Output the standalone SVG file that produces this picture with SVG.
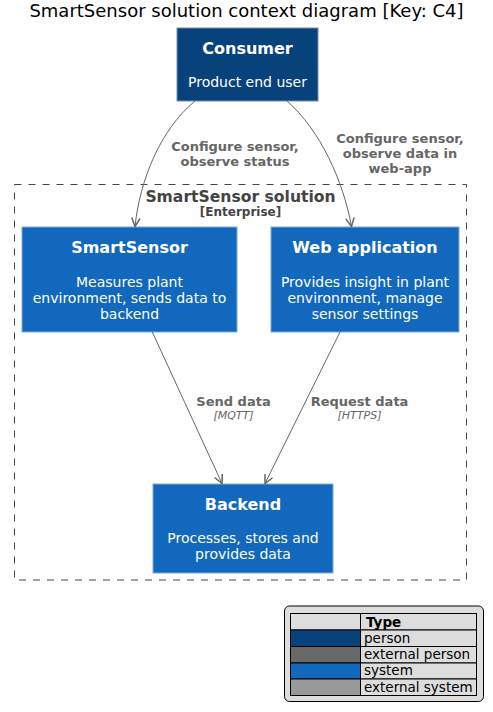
<svg xmlns="http://www.w3.org/2000/svg" width="493" height="712" viewBox="0 0 493 712">
<defs>
<marker id="arr" viewBox="0 0 10 10" refX="9" refY="5" markerWidth="10" markerHeight="10" markerUnits="userSpaceOnUse" orient="auto">
<path d="M0.5,0.8 L9,5 L0.5,9.2" fill="none" stroke="#666666" stroke-width="1.5"/>
</marker>
</defs>
<style>
text{font-family:"DejaVu Sans","Liberation Sans",sans-serif}
.title{font-size:18px;fill:#000}
.nt{font-size:16px;font-weight:bold;fill:#fff}
.nd{font-size:14px;fill:#fff}
.lbl{font-size:13px;font-weight:bold;fill:#666}
.tech{font-size:11px;font-style:italic;fill:#666}
.edge{fill:none;stroke:#666666;stroke-width:1}
.sys{fill:#1168BD;stroke:#7DAADB;stroke-width:1}
.per{fill:#08427B;stroke:#6F8FB3;stroke-width:1}
.lg{font-size:13.5px;fill:#000}
.cell{stroke:#000;stroke-width:1}
</style>
<rect width="493" height="712" fill="#fff"/>
<text class="title" x="246.5" y="17" text-anchor="middle">SmartSensor solution context diagram [Key: C4]</text>

<g id="boundary">
<rect x="14.5" y="184.5" width="452" height="395.5" fill="none" stroke="#444" stroke-width="1" stroke-dasharray="7,7"/>
<text x="240.5" y="202" text-anchor="middle" style="font-size:15.6px;font-weight:bold;fill:#444">SmartSensor solution</text>
<text x="240.5" y="216" text-anchor="middle" style="font-size:12px;font-weight:bold;fill:#444">[Enterprise]</text>
</g>

<g id="consumer">
<rect class="per" x="177" y="28" width="141" height="73"/>
<text class="nt" x="247.5" y="54" text-anchor="middle">Consumer</text>
<text class="nd" x="247.5" y="87" text-anchor="middle">Product end user</text>
</g>

<g id="smartsensor">
<rect class="sys" x="22" y="227" width="215" height="105"/>
<text class="nt" x="129.5" y="253" text-anchor="middle">SmartSensor</text>
<text class="nd" x="129.5" y="287" text-anchor="middle">Measures plant</text>
<text class="nd" x="129.5" y="303" text-anchor="middle">environment, sends data to</text>
<text class="nd" x="129.5" y="318.5" text-anchor="middle">backend</text>
</g>

<g id="webapp">
<rect class="sys" x="271" y="227" width="188" height="105"/>
<text class="nt" x="365" y="253" text-anchor="middle">Web application</text>
<text class="nd" x="365" y="287" text-anchor="middle">Provides insight in plant</text>
<text class="nd" x="365" y="303" text-anchor="middle">environment, manage</text>
<text class="nd" x="365" y="318.5" text-anchor="middle">sensor settings</text>
</g>

<g id="backend">
<rect class="sys" x="153" y="484" width="180" height="89"/>
<text class="nt" x="243" y="510" text-anchor="middle">Backend</text>
<text class="nd" x="243" y="543" text-anchor="middle">Processes, stores and</text>
<text class="nd" x="243" y="558.5" text-anchor="middle">provides data</text>
</g>

<g id="connectors">
<path class="edge" d="M195,101 C160,130 140,180 135,226.5" marker-end="url(#arr)"/>
<path class="edge" d="M287,101 C320,130 343,180 351.5,226.5" marker-end="url(#arr)"/>
<path class="edge" d="M152.3,332 L222,483.5" marker-end="url(#arr)"/>
<path class="edge" d="M340,332 L265,483.5" marker-end="url(#arr)"/>
<text class="lbl" x="235" y="151" text-anchor="middle">Configure sensor,</text>
<text class="lbl" x="235" y="166" text-anchor="middle">observe status</text>
<text class="lbl" x="400" y="143" text-anchor="middle">Configure sensor,</text>
<text class="lbl" x="400" y="158" text-anchor="middle">observe data in</text>
<text class="lbl" x="400" y="172.5" text-anchor="middle">web-app</text>
<text class="lbl" x="233.5" y="406" text-anchor="middle">Send data</text>
<text class="tech" x="233.5" y="419" text-anchor="middle">[MQTT]</text>
<text class="lbl" x="359.5" y="406" text-anchor="middle">Request data</text>
<text class="tech" x="359.5" y="419" text-anchor="middle">[HTTPS]</text>
</g>

<g id="legend">
<rect x="284.5" y="606" width="199" height="95.5" rx="5" ry="5" fill="#DDDDDD" stroke="#000" stroke-width="1"/>
<rect class="cell" x="290.5" y="613.5" width="70" height="16.5" fill="#DDDDDD"/>
<rect class="cell" x="360.5" y="613.5" width="116" height="16.5" fill="#DDDDDD"/>
<rect class="cell" x="290.5" y="630" width="70" height="16.5" fill="#08427B"/>
<rect class="cell" x="360.5" y="630" width="116" height="16.5" fill="#DDDDDD"/>
<rect class="cell" x="290.5" y="646.5" width="70" height="16.5" fill="#686868"/>
<rect class="cell" x="360.5" y="646.5" width="116" height="16.5" fill="#DDDDDD"/>
<rect class="cell" x="290.5" y="663" width="70" height="16" fill="#1168BD"/>
<rect class="cell" x="360.5" y="663" width="116" height="16" fill="#DDDDDD"/>
<rect class="cell" x="290.5" y="679" width="70" height="16.5" fill="#999999"/>
<rect class="cell" x="360.5" y="679" width="116" height="16.5" fill="#DDDDDD"/>
<text class="lg" x="366" y="626.5" style="font-weight:bold">Type</text>
<text class="lg" x="364" y="642.5">person</text>
<text class="lg" x="364" y="659">external person</text>
<text class="lg" x="364" y="675">system</text>
<text class="lg" x="364" y="691.5">external system</text>
</g>
</svg>
